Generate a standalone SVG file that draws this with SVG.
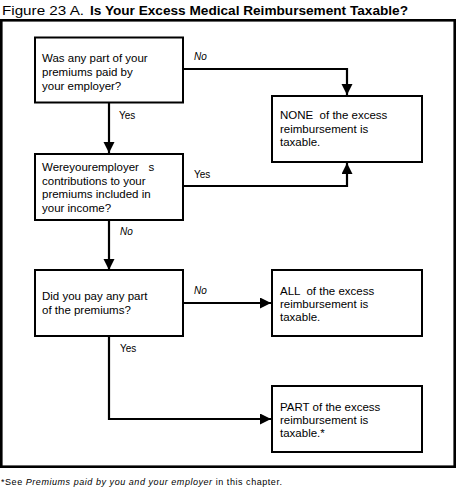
<svg xmlns="http://www.w3.org/2000/svg" width="458" height="501" viewBox="0 0 458 501">
<style>
text{font-family:"Liberation Sans",Arial,sans-serif;fill:#000}
.t{font-size:11.5px}
.lbl{font-size:10px}
.it{font-style:italic}
.box{fill:#fff;stroke:#000;stroke-width:2}
.con{fill:none;stroke:#000;stroke-width:2.2}
</style>
<defs>
<marker id="ah" markerUnits="userSpaceOnUse" markerWidth="12" markerHeight="12" refX="11" refY="5.5" orient="auto">
<path d="M0,0 L11,5.5 L0,11 z" fill="#000"/>
</marker>
</defs>
<rect width="458" height="501" fill="#fff"/>
<text x="2" y="15" style="font-size:12.5px" textLength="82" lengthAdjust="spacingAndGlyphs">Figure 23 A.</text>
<text x="90" y="15" style="font-size:12.5px;font-weight:bold" textLength="318" lengthAdjust="spacingAndGlyphs">Is Your Excess Medical Reimbursement Taxable?</text>
<rect x="1.3" y="20.3" width="453.4" height="446.4" fill="none" stroke="#000" stroke-width="2.6"/>
<g id="connectors">
<polyline class="con" points="184,69 347,69 347,95" marker-end="url(#ah)"/>
<polyline class="con" points="109,103 109,153" marker-end="url(#ah)"/>
<polyline class="con" points="184,186 347,186 347,163" marker-end="url(#ah)"/>
<polyline class="con" points="109,220 109,270" marker-end="url(#ah)"/>
<polyline class="con" points="184,303 271,303" marker-end="url(#ah)"/>
<polyline class="con" points="109,336 109,419 271,419" marker-end="url(#ah)"/>
<text class="lbl it" x="194" y="60">No</text>
<text class="lbl" x="119" y="119">Yes</text>
<text class="lbl" x="194" y="178">Yes</text>
<text class="lbl it" x="120" y="235">No</text>
<text class="lbl it" x="194" y="294">No</text>
<text class="lbl" x="120" y="352">Yes</text>
</g>
<g id="q1">
<rect class="box" x="35" y="37.5" width="148" height="65"/>
<text class="t" x="42" y="62">Was any part of your</text>
<text class="t" x="42" y="76">premiums paid by</text>
<text class="t" x="42" y="90">your employer?</text>
</g>
<g id="q2">
<rect class="box" x="35" y="154" width="148" height="66"/>
<text class="t" x="42" y="171" xml:space="preserve">Wereyouremployer   s</text>
<text class="t" x="42" y="184.5">contributions to your</text>
<text class="t" x="42" y="198">premiums included in</text>
<text class="t" x="42" y="211.5">your income?</text>
</g>
<g id="q3">
<rect class="box" x="35" y="270" width="148" height="66"/>
<text class="t" x="42" y="299.5">Did you pay any part</text>
<text class="t" x="42" y="313.5">of the premiums?</text>
</g>
<g id="none">
<rect class="box" x="272" y="96" width="150" height="66"/>
<text class="t" x="280" y="118.5" xml:space="preserve">NONE  of the excess</text>
<text class="t" x="280" y="132.5">reimbursement is</text>
<text class="t" x="280" y="145.5">taxable.</text>
</g>
<g id="all">
<rect class="box" x="272" y="270" width="150" height="66"/>
<text class="t" x="280" y="294.5" xml:space="preserve">ALL  of the excess</text>
<text class="t" x="280" y="308">reimbursement is</text>
<text class="t" x="280" y="321">taxable.</text>
</g>
<g id="part">
<rect class="box" x="272" y="386" width="150" height="66"/>
<text class="t" x="280" y="411">PART of the excess</text>
<text class="t" x="280" y="424">reimbursement is</text>
<text class="t" x="280" y="436.5">taxable.*</text>
</g>
<text x="1" y="485" style="font-size:9px" textLength="281" lengthAdjust="spacing">*See <tspan font-style="italic">Premiums paid by you and your employer</tspan> in this chapter.</text>
</svg>
